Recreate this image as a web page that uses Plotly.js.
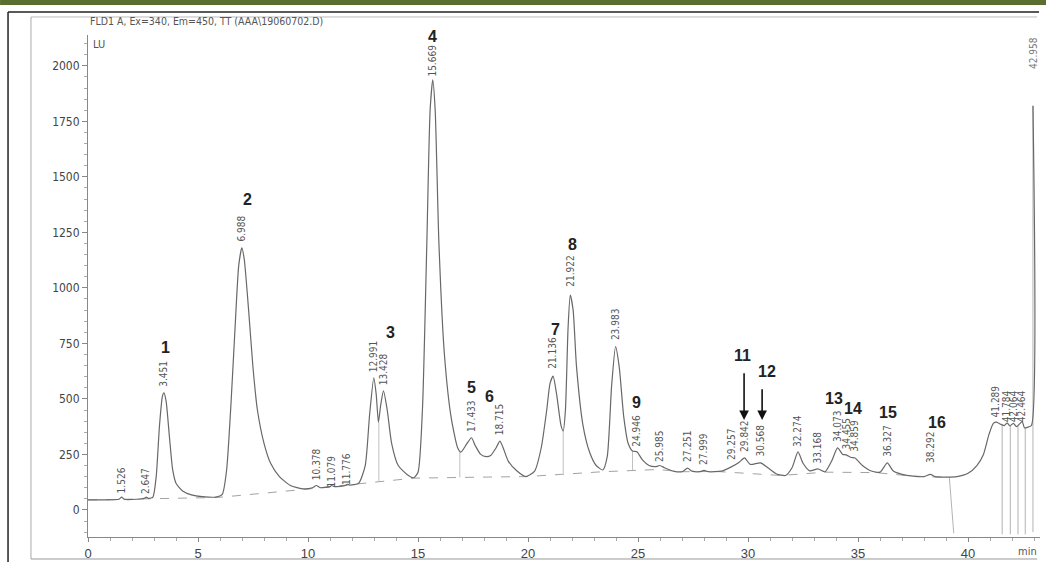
<!DOCTYPE html>
<html>
<head>
<meta charset="utf-8">
<script src="https://cdn.plot.ly/plotly-3.0.1.min.js"></script>
<style>
  html, body { margin: 0; padding: 0; background: #ffffff; }
  #chart { width: 1046px; height: 562px; }
</style>
</head>
<body>
<div id="chart"></div>
<script>
// ---- chromatogram signal (time in min, LU) ----
const time = [0.0,0.8,1.4,1.53,1.65,2.2,2.55,2.65,2.75,2.95,3.1,3.25,3.38,3.45,3.55,3.7,3.85,4.0,4.3,4.7,5.2,5.8,6.1,6.3,6.5,6.7,6.85,6.99,7.1,7.3,7.5,7.7,8.0,8.3,8.7,9.2,9.8,10.2,10.38,10.55,11.0,11.08,11.2,11.7,11.78,11.9,12.3,12.6,12.8,12.99,13.1,13.2,13.3,13.43,13.6,13.8,14.1,14.5,14.8,15.0,15.2,15.4,15.55,15.67,15.78,15.95,16.2,16.5,16.8,16.95,17.2,17.43,17.6,17.85,18.1,18.3,18.55,18.72,18.85,19.1,19.5,19.9,20.3,20.6,20.85,21.0,21.14,21.3,21.5,21.6,21.7,21.82,21.92,22.05,22.2,22.5,22.8,23.1,23.4,23.6,23.8,23.98,24.15,24.35,24.55,24.75,24.95,25.2,25.5,25.8,25.99,26.2,26.6,27.0,27.25,27.45,27.8,28.0,28.2,28.8,29.26,29.6,29.84,30.1,30.57,30.9,31.3,31.7,32.0,32.27,32.5,32.8,33.17,33.5,33.8,34.07,34.3,34.46,34.7,34.86,35.2,35.6,36.0,36.33,36.6,37.0,37.5,38.0,38.29,38.5,39.0,39.5,40.0,40.4,40.7,40.95,41.15,41.29,41.5,41.65,41.78,41.9,42.06,42.2,42.46,42.56,42.7,42.88,42.95];
const signal = [45,45,48,58,48,48,52,58,52,58,150,380,510,527,490,330,180,120,85,68,60,58,70,180,480,850,1100,1180,1130,900,640,450,300,210,150,110,95,100,110,100,105,110,105,110,115,112,120,200,430,595,520,395,470,536,450,300,200,160,145,170,450,1200,1800,1937,1800,1200,700,420,280,260,295,325,290,250,240,245,280,310,285,220,175,150,175,280,450,570,603,520,380,356,450,820,968,900,650,380,260,200,180,240,560,735,640,420,300,265,262,225,200,195,200,190,175,172,188,175,172,178,172,175,195,215,234,205,212,190,162,155,190,261,210,176,185,172,220,279,250,248,236,234,200,175,170,212,175,160,152,150,160,150,148,150,165,200,250,340,390,395,385,380,392,378,390,375,398,370,372,380,1820];

// integration baseline
const baseTime = [0, 3.0, 5.9, 9.9, 12.3, 14.8, 18.2, 19.9, 23.4, 25.9, 27.0, 28.6, 31.5, 33.5, 35.8, 37.5, 39.2];
const baseVal  = [45, 52, 56, 93, 118, 143, 148, 150, 172, 182, 172, 173, 155, 170, 168, 152, 146];

// peak separation (drop) lines
const dropTime = [13.22, 16.9, 21.6, 24.75];
const dropFrom = [395, 260, 356, 265];
const dropTo   = [126, 146, 164, 177];
const endDropTime = [39.15, 41.55, 41.92, 42.27, 42.6, 42.95];
const endDropFrom = [146, 385, 378, 378, 370, 1820];
const endDropTo   = [-105, -110, -110, -110, -110, -100];
const endDropTime2 = [39.35, 41.55, 41.92, 42.27, 42.6, 42.95];

// retention-time labels
const rtLabels = ["1.526","2.647","3.451","6.988","10.378","11.079","11.776","12.991","13.428","15.669","17.433","18.715","21.136","21.922","23.983","24.946","25.985","27.251","27.999","29.257","29.842","30.568","32.274","33.168","34.073","34.455","34.859","36.327","38.292","41.289","41.784","42.064","42.464"];
const rtLabelY = [59,59,541,1194,122,86,99,608,550,1937,338,324,622,991,752,270,203,203,189,212,248,225,270,194,293,257,248,225,198,405,383,383,383];

// compound numbers
const peakNums = ["1","2","3","4","5","6","7","8","9","11","12","13","14","15","16"];
const numTime  = [3.5, 7.23, 13.77, 15.64, 17.41, 18.23, 21.23, 22.0, 24.95, 29.73, 30.86, 33.9, 34.77, 36.36, 38.59];
const numVal   = [730, 1396, 800, 2131, 550, 509, 811, 1194, 482, 694, 622, 500, 455, 437, 392];

// arrows for 11 and 12
const arrowTime = [29.82, 30.64];
const arrowFrom = [622, 550];
const arrowTo   = [405, 405];

// axis ticks
const yTicks = [0, 250, 500, 750, 1000, 1250, 1500, 1750, 2000];
const xTicks = [0, 5, 10, 15, 20, 25, 30, 35, 40];

const narrow = "Liberation Sans Narrow, DejaVu Sans Condensed, Arial, sans-serif";

function segs(ts, a, b, ts2) {
  const xs = [], ys = [];
  for (let i = 0; i < ts.length; i++) {
    xs.push(ts[i], ts2 ? ts2[i] : ts[i], null);
    ys.push(a[i], b[i], null);
  }
  return {xs, ys};
}
const d1 = segs(dropTime, dropFrom, dropTo);
const d2 = segs(endDropTime, endDropFrom, endDropTo, endDropTime2);

const traces = [
  {x: baseTime, y: baseVal, mode: 'lines', line: {color: '#8a8a8a', width: 0.8, dash: 'dash'}, hoverinfo: 'skip'},
  {x: d1.xs, y: d1.ys, mode: 'lines', line: {color: '#b0b0b0', width: 0.8}, hoverinfo: 'skip'},
  {x: d2.xs, y: d2.ys, mode: 'lines', line: {color: '#a0a0a0', width: 0.8}, hoverinfo: 'skip'},
  {x: time, y: signal, mode: 'lines', line: {color: '#686868', width: 1.2, shape: 'spline', smoothing: 0.6}}
];

const annotations = [];
rtLabels.forEach((t, i) => {
  annotations.push({x: parseFloat(t), y: rtLabelY[i], xref: 'x', yref: 'y', text: t, showarrow: false,
    textangle: -90, yanchor: 'bottom', xanchor: 'center', yshift: 1,
    font: {family: narrow, size: 10, color: '#555'}});
});
annotations.push({x: 42.95, y: 2139, xref: 'x', yref: 'y', text: '42.958', showarrow: false,
  textangle: -90, yanchor: 'top', xanchor: 'center', font: {family: narrow, size: 10, color: '#777'}});
peakNums.forEach((n, i) => {
  annotations.push({x: numTime[i], y: numVal[i], xref: 'x', yref: 'y', text: '<b>' + n + '</b>', showarrow: false,
    font: {family: 'Liberation Sans, Arial, sans-serif', size: 16, color: '#222'}});
});
arrowTime.forEach((t, i) => {
  annotations.push({x: t, y: arrowTo[i], ax: t, ay: arrowFrom[i], xref: 'x', yref: 'y', axref: 'x', ayref: 'y',
    text: '', showarrow: true, arrowhead: 2, arrowsize: 1.2, arrowwidth: 1.6, arrowcolor: '#111'});
});
annotations.push({x: 0.003, y: 0.982, xref: 'paper', yref: 'paper', text: 'LU', showarrow: false,
  xanchor: 'left', yanchor: 'middle', font: {family: narrow, size: 11, color: '#555'}});
annotations.push({x: 0.987, y: -0.026, xref: 'paper', yref: 'paper', text: 'min', showarrow: false,
  xanchor: 'center', yanchor: 'middle', yshift: -1, font: {family: narrow, size: 11, color: '#555'}});

const shapes = [
  {type: 'rect', xref: 'paper', yref: 'paper', x0: -0.0924, x1: 1.0063, y0: 1.0598, y1: 1.0697,
    fillcolor: '#5a6f2f', line: {width: 0}},
  {type: 'line', xref: 'paper', yref: 'paper', x0: -0.084, x1: 0.999, y0: 1.0458, y1: 1.0458,
    line: {color: '#222', width: 1.5}},
  {type: 'line', xref: 'paper', yref: 'paper', x0: -0.084, x1: -0.084, y0: 1.0458, y1: -0.0498,
    line: {color: '#222', width: 1.5}},
  {type: 'line', xref: 'paper', yref: 'paper', x0: -0.0599, x1: 0.997, y0: 1.0359, y1: 1.0359,
    line: {color: '#bbb', width: 1}},
  {type: 'line', xref: 'paper', yref: 'paper', x0: -0.0599, x1: -0.0599, y0: 1.0359, y1: -0.0438,
    line: {color: '#aaa', width: 1}},
  {type: 'line', xref: 'paper', yref: 'paper', x0: -0.0599, x1: 0.997, y0: -0.0438, y1: -0.0438,
    line: {color: '#999', width: 1}}
];

const layout = {
  width: 1046, height: 562,
  margin: {l: 88, r: 6, t: 35, b: 25},
  paper_bgcolor: '#ffffff', plot_bgcolor: '#ffffff',
  showlegend: false,
  title: {text: 'FLD1 A, Ex=340, Em=450, TT (AAA\\19060702.D)', x: 0.086, xanchor: 'left', y: 0.962, yanchor: 'middle',
    font: {family: narrow, size: 10.5, color: '#555'}},
  xaxis: {range: [0, 43.27], tickvals: xTicks, ticktext: xTicks.map(String), showgrid: false, zeroline: false,
    showline: true, linecolor: '#888', linewidth: 1, ticks: 'outside', ticklen: 4, tickcolor: '#888',
    minor: {dtick: 1, ticks: 'outside', ticklen: 3, tickcolor: '#aaa', showgrid: false},
    tickfont: {family: 'Liberation Sans, Arial, sans-serif', size: 13, color: '#444'}},
  yaxis: {range: [-122, 2139], tickvals: yTicks, ticktext: yTicks.map(String), showgrid: false, zeroline: false,
    showline: true, linecolor: '#888', linewidth: 1, ticks: 'outside', ticklen: 5, tickcolor: '#888',
    minor: {dtick: 50, ticks: 'outside', ticklen: 3, tickcolor: '#aaa', showgrid: false},
    tickfont: {family: narrow, size: 12, color: '#444'}},
  annotations: annotations,
  shapes: shapes
};

Plotly.newPlot('chart', traces, layout, {displayModeBar: false, staticPlot: true});
</script>
</body>
</html>
